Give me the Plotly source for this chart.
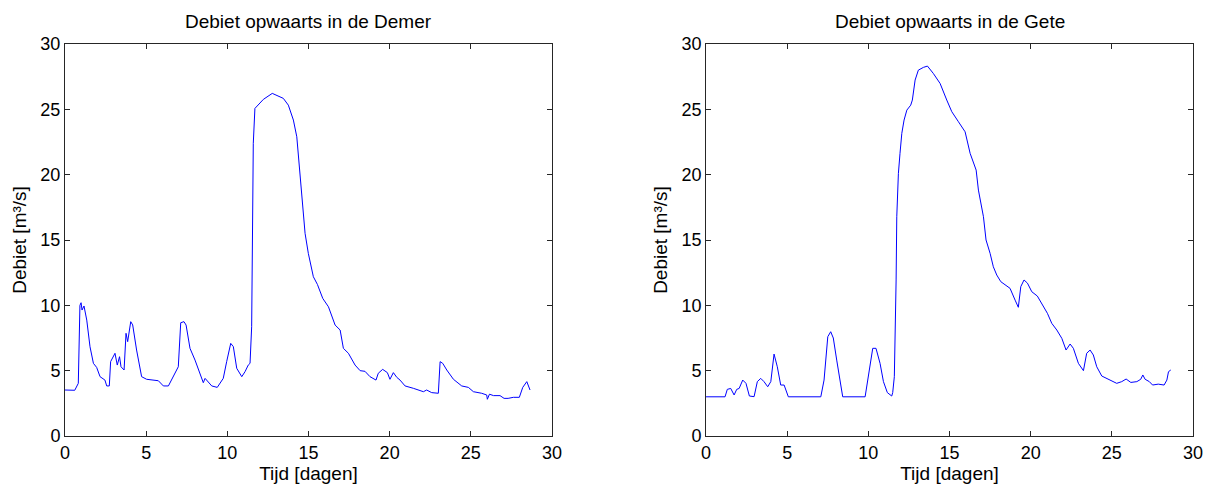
import plotly.graph_objects as go
from plotly.subplots import make_subplots

# Demer (left)
demer_t = [0.0, 0.6, 0.82, 0.92, 0.99, 1.05, 1.17, 1.34, 1.54, 1.75, 1.95, 2.16, 2.46, 2.57, 2.73,
           2.81, 3.08, 3.22, 3.36, 3.45, 3.64, 3.76, 3.86, 4.05, 4.17, 4.41, 4.72, 5.03, 5.75, 6.06,
           6.37, 6.78, 6.98, 7.13, 7.33, 7.46, 7.70, 8.01, 8.32, 8.52, 8.63, 9.04, 9.38, 9.75, 9.96,
           10.21, 10.37, 10.58, 10.89, 11.09, 11.29, 11.40, 11.50, 11.54, 11.60, 11.70, 11.91, 12.22,
           12.77, 13.14, 13.45, 13.76, 14.07, 14.28, 14.44, 14.58, 14.79, 14.99, 15.30, 15.55, 15.88,
           16.23, 16.64, 16.95, 17.15, 17.46, 17.87, 18.18, 18.48, 18.79, 19.16, 19.30, 19.57, 19.86,
           20.02, 20.23, 20.44, 20.64, 20.95, 21.46, 22.08, 22.28, 22.59, 23.00, 23.11, 23.27, 23.52,
           23.93, 24.44, 24.85, 25.16, 25.67, 25.98, 26.02, 26.15, 26.40, 26.80, 27.05, 27.30, 27.62,
           27.99, 28.20, 28.45, 28.65]
demer_q = [3.52, 3.5, 4.03, 10.0, 10.2, 9.64, 9.95, 8.87, 6.83, 5.56, 5.25, 4.54, 4.28, 3.83, 3.83,
           5.69, 6.33, 5.43, 6.07, 5.30, 5.05, 7.86, 7.22, 8.75, 8.5, 6.58, 4.54, 4.34, 4.23, 3.83,
           3.83, 4.80, 5.30, 8.67, 8.75, 8.49, 6.71, 5.81, 4.80, 4.08, 4.41, 3.83, 3.72, 4.41, 5.69,
           7.09, 6.84, 5.18, 4.54, 4.92, 5.43, 5.56, 8.36, 17.04, 22.4, 25.07, 25.32, 25.76,
           26.22, 26.01, 25.84, 25.32, 24.18, 22.9, 20.6, 18.06, 15.51, 13.98, 12.19, 11.6, 10.53,
           9.89, 8.49, 8.11, 6.71, 6.33, 5.43, 5.0, 4.95, 4.54, 4.28, 4.80, 5.10, 4.85,
           4.34, 4.85, 4.49, 4.28, 3.83, 3.65, 3.39, 3.52, 3.32, 3.27, 5.69, 5.56, 5.05,
           4.34, 3.83, 3.72, 3.39, 3.27, 3.14, 2.81, 3.2, 3.09, 3.09, 2.88, 2.88, 2.96,
           2.96, 3.72, 4.16, 3.52]

# Gete (right)
gete_t = [0.0, 1.17, 1.31, 1.52, 1.73, 1.89, 2.04, 2.26, 2.46, 2.67, 2.96, 3.16, 3.37, 3.57, 3.80,
          3.99, 4.19, 4.39, 4.60, 4.81, 5.07, 7.07, 7.27, 7.50, 7.68, 7.84, 8.05, 8.42, 9.80, 10.00,
          10.27, 10.47, 10.72, 10.93, 11.17, 11.44, 11.50, 11.60, 11.66, 11.71, 11.75, 11.85, 11.95,
          12.06, 12.20, 12.37, 12.61, 12.71, 12.88, 13.08, 13.39, 13.64, 14.00, 14.42, 14.83, 15.14,
          15.55, 15.96, 16.27, 16.64, 16.78, 17.09, 17.25, 17.50, 17.70, 17.91, 18.16, 18.32, 18.73,
          19.04, 19.24, 19.39, 19.59, 19.80, 20.07, 20.41, 20.68, 21.03, 21.30, 21.61, 21.92, 22.18,
          22.43, 22.63, 22.94, 23.25, 23.45, 23.66, 23.86, 24.07, 24.38, 24.79, 25.30, 25.61, 25.88,
          26.17, 26.54, 26.78, 26.91, 27.05, 27.31, 27.51, 27.86, 28.22, 28.39, 28.49, 28.63]
gete_q = [3.0, 3.0, 3.57, 3.64, 3.14, 3.57, 3.64, 4.28, 4.03, 3.06, 3.01, 4.16, 4.41, 4.16, 3.77,
          4.16, 6.27, 5.3, 3.9, 3.9, 3.0, 3.0, 4.28, 7.6, 7.98, 7.5, 5.81, 3.0, 3.0, 4.54,
          6.71, 6.71, 5.56, 4.16, 3.32, 3.06, 3.32, 4.54, 7.86, 11.94, 16.78, 20.1, 21.63,
          23.16, 24.18, 24.94, 25.32, 25.71, 27.24, 28.0, 28.21, 28.31, 27.75, 26.98, 25.71, 24.82,
          24.05, 23.28, 21.63, 20.35, 18.82, 16.78, 15.0, 13.98, 12.95, 12.32, 11.81, 11.68, 11.3,
          10.4, 9.85, 11.43, 11.94, 11.7, 11.04, 10.71, 10.15, 9.39, 8.62, 8.11, 7.47, 6.58,
          7.04, 6.71, 5.56, 5.0, 6.33, 6.58, 6.2, 5.3, 4.59, 4.34, 4.03, 4.16, 4.36,
          4.1, 4.16, 4.34, 4.67, 4.34, 4.16, 3.90, 3.97, 3.9, 4.28, 4.92, 5.05]

titles = ["Debiet opwaarts in de Demer", "Debiet opwaarts in de Gete"]
x_ticks = [0, 5, 10, 15, 20, 25, 30]
y_ticks = [0, 5, 10, 15, 20, 25, 30]

FONT = "Liberation Sans, Arial, sans-serif"

fig = make_subplots(rows=1, cols=2, horizontal_spacing=0.1366)
fig.add_trace(go.Scatter(x=demer_t, y=demer_q, mode="lines",
                         line=dict(color="#0000ff", width=1), showlegend=False), row=1, col=1)
fig.add_trace(go.Scatter(x=gete_t, y=gete_q, mode="lines",
                         line=dict(color="#0000ff", width=1), showlegend=False), row=1, col=2)

axis_common = dict(showline=True, mirror="ticks", linecolor="#262626", linewidth=1,
                   ticks="inside", ticklen=5, tickcolor="#262626", showgrid=False,
                   zeroline=False, automargin=False,
                   tickfont=dict(family=FONT, size=18, color="black"))

for c in (1, 2):
    fig.update_xaxes(range=[0, 30], tickvals=x_ticks, ticktext=[str(v) for v in x_ticks],
                     title=dict(text="Tijd [dagen]", font=dict(family=FONT, size=19, color="black"),
                                standoff=5),
                     row=1, col=c, **axis_common)
    fig.update_yaxes(range=[0, 30], tickvals=y_ticks, ticktext=[str(v) for v in y_ticks],
                     title=dict(text="Debiet [m³/s]", font=dict(family=FONT, size=19, color="black"),
                                standoff=8),
                     row=1, col=c, **axis_common)

fig.layout.xaxis.domain = [0, 0.4317]
fig.layout.xaxis2.domain = [0.5683, 1.0]

ann = []
for i, t in enumerate(titles):
    dom = [0, 0.4317] if i == 0 else [0.5683, 1.0]
    ann.append(dict(text=t, x=(dom[0] + dom[1]) / 2, y=1.0, xref="paper", yref="paper",
                    xanchor="center", yanchor="bottom", yshift=10, showarrow=False,
                    font=dict(family=FONT, size=19, color="black")))
fig.update_layout(annotations=ann, width=1214, height=487,
                  margin=dict(l=65, r=21, t=44, b=51, autoexpand=False),
                  paper_bgcolor="white", plot_bgcolor="white",
                  font=dict(family=FONT, color="black"))

fig.write_html("out.html")
